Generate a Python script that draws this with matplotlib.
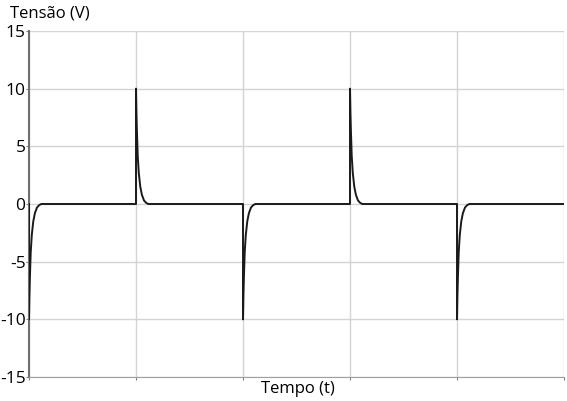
import numpy as np
import matplotlib.pyplot as plt

# Instants of the square-wave edges and the sign of each spike
edge_times = [0, 1, 2, 3, 4]
edge_signs = [-1, 1, -1, 1, -1]
peak_voltage = 10

# Decay shape (offset after the edge, volts)
decay_offsets = [0, 0.004, 0.008, 0.016, 0.026, 0.04, 0.055, 0.075, 0.095, 0.115]
decay_values = [10, 8.0, 6.5, 4.2, 2.7, 1.5, 0.8, 0.3, 0.1, 0]

y_ticks = [-15, -10, -5, 0, 5, 10, 15]
x_grid = [0, 1, 2, 3, 4, 5]

t = []
v = []
for t0, s in zip(edge_times, edge_signs):
    t.append(t0)
    v.append(0)
    for dt, dv in zip(decay_offsets, decay_values):
        t.append(t0 + dt)
        v.append(s * dv * peak_voltage / 10)
t.append(5)
v.append(0)

plt.rcParams['font.family'] = ['Open Sans', 'DejaVu Sans']
fig = plt.figure(figsize=(5.67, 4.01), dpi=100)
ax = fig.add_axes([29 / 567, 24 / 401, 535 / 567, 346 / 401])

ax.plot(t, v, color='#1a1a1a', linewidth=1.4, zorder=3)

ax.set_xlim(0, 5)
ax.set_ylim(-15, 15)
ax.set_yticks(y_ticks)
ax.set_yticklabels([str(y) for y in y_ticks], fontsize=12.5)
ax.set_xticks(x_grid)
ax.set_xticklabels([])
ax.grid(True, color='#d4d4d4', linewidth=1)
ax.tick_params(axis='both', length=2, color='#808080', pad=0.5)

for side in ['top', 'right']:
    ax.spines[side].set_visible(False)
ax.spines['left'].set_color('#707070')
ax.spines['bottom'].set_color('#a0a0a0')
ax.spines['left'].set_linewidth(1.5)

fig.text(10 / 567, 1 - 13 / 401, 'Tensão (V)', fontsize=12, va='center', ha='left')
fig.text(298 / 567, 1 - 389 / 401, 'Tempo (t)', fontsize=12, va='center', ha='center')

fig.savefig('out.png', dpi=100)
